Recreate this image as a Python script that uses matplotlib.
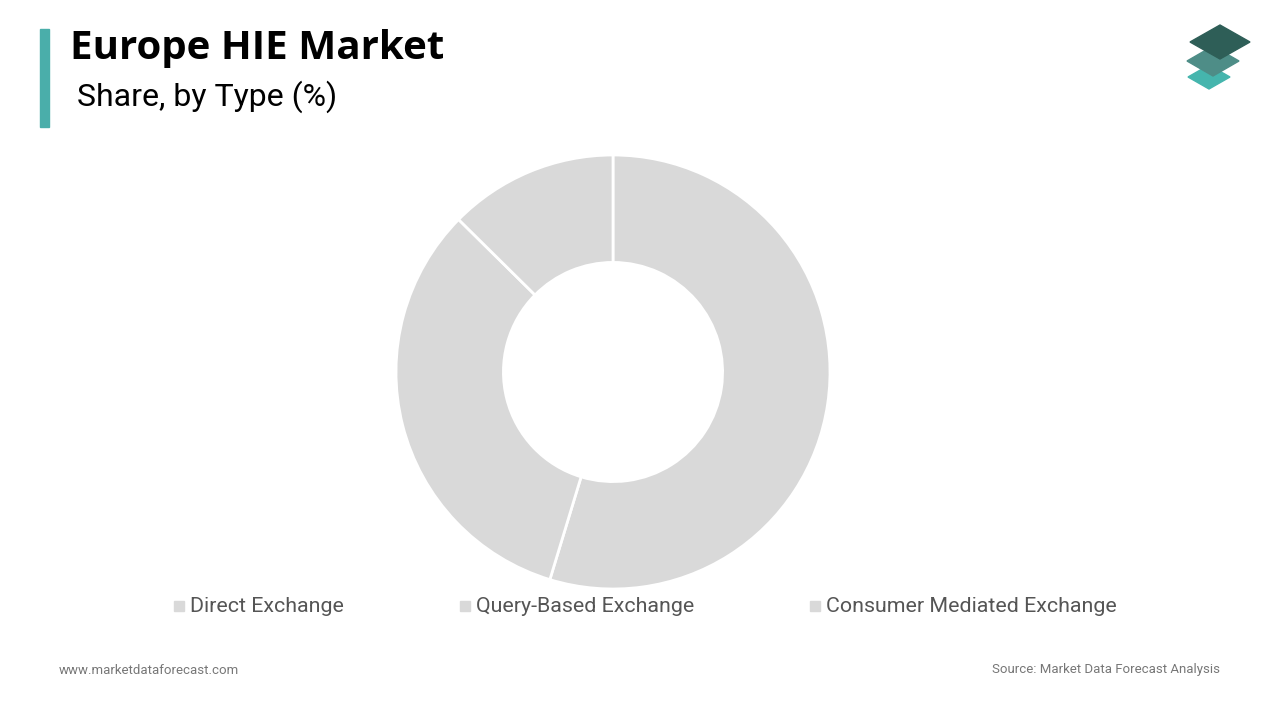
import matplotlib.pyplot as plt
from matplotlib.patches import Polygon, Rectangle

# data
categories = ["Direct Exchange", "Query-Based Exchange", "Consumer Mediated Exchange"]
shares = [54.7, 32.7, 12.6]
slice_color = "#d9d9d9"

W, H = 1280, 720
fig = plt.figure(figsize=(W / 100, H / 100), dpi=100)
fig.patch.set_facecolor("white")

# donut axes placed by pixels: center (613, 372), radius 217
cx, cy, r = 613, 372, 217
ax = fig.add_axes([(cx - r) / W, (H - cy - r) / H, 2 * r / W, 2 * r / H])
ax.pie(shares, startangle=90, counterclock=False, colors=[slice_color] * len(shares),
       radius=1.0, wedgeprops=dict(width=0.495, edgecolor="white", linewidth=2))
ax.set_xlim(-1, 1)
ax.set_ylim(-1, 1)
ax.set_aspect("equal")
ax.axis("off")

# accent bar
fig.patches.append(Rectangle((40 / W, 1 - 127 / H), 9 / W, 98 / H, transform=fig.transFigure,
                             color="#4aaeaa", zorder=2))

# title and subtitle
fig.text(70 / W, 1 - 49 / H, "Europe HIE Market", fontsize=29, fontweight="bold",
         family="Open Sans", va="center", ha="left", color="black")
fig.text(77 / W, 1 - 97 / H, "Share, by Type (%)", fontsize=23, family="Roboto",
         va="center", ha="left", color="black")

# logo
def diamond(x, y, hw, hh, color):
    pts = [(x, y - hh), (x + hw, y), (x, y + hh), (x - hw, y)]
    pts = [(px / W, 1 - py / H) for px, py in pts]
    fig.patches.append(Polygon(pts, closed=True, transform=fig.transFigure, color=color))

diamond(1209, 77, 21, 12, "#45b5ad")
diamond(1213, 61, 26, 15, "#4e8d87")
diamond(1220, 42, 30, 17, "#2e5e57")

# legend
leg_x = [174, 460, 810]
for x, label in zip(leg_x, categories):
    fig.patches.append(Rectangle((x / W, 1 - 611 / H), 10 / W, 10 / H, transform=fig.transFigure,
                                 color=slice_color))
    fig.text((x + 16) / W, 1 - 606 / H, label, fontsize=15.4, family="Roboto",
             color="#555555", va="center", ha="left")

# footer
fig.text(59 / W, 1 - 670 / H, "www.marketdataforecast.com",
         fontsize=9.5, family="Roboto", color="#777777", va="center", ha="left")
fig.text(1220 / W, 1 - 670 / H, "Source: Market Data Forecast Analysis",
         fontsize=9.5, family="Roboto", color="#777777", va="center", ha="right")

fig.savefig("out.png", dpi=100, facecolor="white")
